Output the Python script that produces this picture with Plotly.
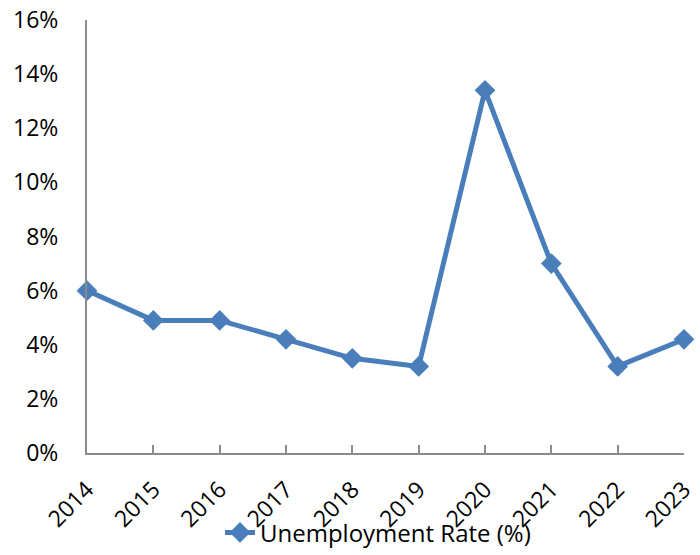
import plotly.graph_objects as go

years = ["2014", "2015", "2016", "2017", "2018", "2019", "2020", "2021", "2022", "2023"]
unemployment_rate = [6.0, 4.9, 4.9, 4.2, 3.5, 3.2, 13.4, 7.0, 3.2, 4.2]
y_ticks = [0, 2, 4, 6, 8, 10, 12, 14, 16]

LINE_BLUE = "#4A7EBB"
AXIS_GRAY = "#8C8C8C"
FONT = "Open Sans, Noto Sans, Liberation Sans, sans-serif"

fig = go.Figure()
fig.add_trace(go.Scatter(
    x=years,
    y=unemployment_rate,
    mode="lines+markers",
    name="Unemployment Rate (%)",
    line=dict(color=LINE_BLUE, width=5),
    marker=dict(symbol="diamond", size=16, color=LINE_BLUE),
    cliponaxis=False,
))

fig.update_layout(
    width=700,
    height=555,
    margin=dict(l=87, r=16, t=20, b=102),
    paper_bgcolor="white",
    plot_bgcolor="white",
    font=dict(family=FONT, size=23, color="#000000"),
    showlegend=True,
    legend=dict(
        orientation="h",
        xref="container",
        yref="container",
        x=0.54,
        xanchor="center",
        y=0.04,
        yanchor="middle",
        font=dict(size=24),
        bgcolor="rgba(0,0,0,0)",
    ),
    xaxis=dict(
        type="category",
        range=[0, len(years) - 1],
        automargin=False,
        showline=True,
        linecolor=AXIS_GRAY,
        linewidth=2,
        showgrid=False,
        zeroline=False,
        ticks="inside",
        ticklen=8,
        tickwidth=2,
        tickcolor=AXIS_GRAY,
        tickangle=-45,
        ticklabelstandoff=12,
        tickfont=dict(size=23),
    ),
    yaxis=dict(
        range=[0, 16],
        automargin=False,
        tickvals=y_ticks,
        ticktext=[f"{v}%" for v in y_ticks],
        showline=True,
        linecolor=AXIS_GRAY,
        linewidth=2,
        showgrid=False,
        zeroline=False,
        ticks="",
        ticklabelstandoff=22,
        tickfont=dict(size=23),
    ),
)

fig.write_html("out.html")
